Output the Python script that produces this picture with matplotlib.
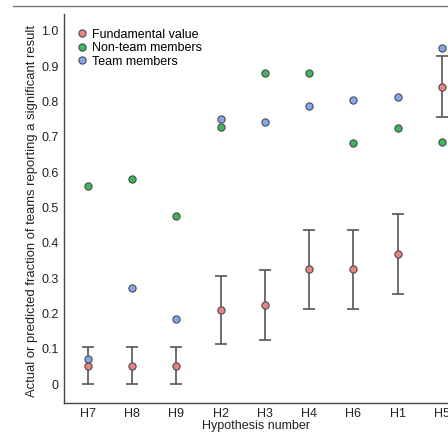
import numpy as np
import matplotlib
matplotlib.use('Agg')
import matplotlib.pyplot as plt
from matplotlib.lines import Line2D

hypotheses = ['H7', 'H8', 'H9', 'H2', 'H3', 'H4', 'H6', 'H1', 'H5']
fundamental = [0.052, 0.052, 0.052, 0.210, 0.224, 0.326, 0.326, 0.369, 0.842]
fund_low = [0.0, 0.0, 0.0, 0.114, 0.125, 0.214, 0.214, 0.256, 0.755]
fund_high = [0.105, 0.105, 0.105, 0.307, 0.322, 0.436, 0.436, 0.483, 0.928]
non_team = [0.561, 0.582, 0.475, 0.728, 0.881, 0.881, 0.684, 0.726, 0.686]
team = [0.070, 0.272, 0.185, 0.752, 0.741, 0.788, 0.805, 0.813, 0.952]
y_ticks = [0, 0.1, 0.2, 0.3, 0.4, 0.5, 0.6, 0.7, 0.8, 0.9, 1.0]
y_tick_labels = ['0', '0.1', '0.2', '0.3', '0.4', '0.5', '0.6', '0.7', '0.8', '0.9', '1.0']

red = '#e8847f'
green = '#3db65c'
blue = '#7fa8f0'
edge = '#4a4a4a'


def main():
    plt.rcParams['font.family'] = ['Liberation Sans', 'DejaVu Sans']
    fig = plt.figure(figsize=(4.48, 4.36), dpi=100)
    ax = fig.add_axes([0.143, 0.076, 0.857, 0.892])

    x = np.arange(len(hypotheses))
    fund = np.array(fundamental)
    yerr = [fund - np.array(fund_low), np.array(fund_high) - fund]

    ax.errorbar(x, fund, yerr=yerr, fmt='none', ecolor='#555555', elinewidth=1.2,
                capsize=4.5, capthick=1.2, zorder=2)
    ms = 5.2
    ax.plot(x, non_team, 'o', color=green, markeredgecolor=edge, markeredgewidth=0.8,
            markersize=ms, linestyle='None', zorder=3)
    ax.plot(x, team, 'o', color=blue, markeredgecolor=edge, markeredgewidth=0.8,
            markersize=ms, linestyle='None', zorder=4)
    ax.plot(x, fundamental, 'o', color=red, markeredgecolor=edge, markeredgewidth=0.8,
            markersize=ms, linestyle='None', zorder=5)

    ax.set_xlim(-0.54, 8.14)
    ax.set_ylim(-0.053, 1.048)
    ax.set_xticks(x)
    ax.set_xticklabels(hypotheses)
    ax.set_yticks(y_ticks)
    ax.set_yticklabels(y_tick_labels)
    ax.tick_params(axis='y', length=0, labelsize=9, pad=4, colors='#222222')
    ax.tick_params(axis='x', length=0, labelsize=9, pad=4, colors='#222222')

    for s in ['top', 'right']:
        ax.spines[s].set_visible(False)
    for s in ['left', 'bottom']:
        ax.spines[s].set_color('#444444')
        ax.spines[s].set_linewidth(1.0)

    ax.set_xlabel('Hypothesis number', fontsize=9, labelpad=0, color='#222222')
    ax.set_ylabel('Actual or predicted fraction of teams reporting a significant result',
                  fontsize=9.4, color='#222222')
    ax.yaxis.set_label_coords(-0.068, 0.494)

    legend_handles = [
        Line2D([0], [0], marker='o', color=red, markeredgecolor=edge, markeredgewidth=0.8,
               markersize=ms, linestyle='None', label='Fundamental value'),
        Line2D([0], [0], marker='o', color=green, markeredgecolor=edge, markeredgewidth=0.8,
               markersize=ms, linestyle='None', label='Non-team members'),
        Line2D([0], [0], marker='o', color=blue, markeredgecolor=edge, markeredgewidth=0.8,
               markersize=ms, linestyle='None', label='Team members'),
    ]
    ax.legend(handles=legend_handles, loc='upper left', bbox_to_anchor=(0.0, 0.985),
              frameon=False, fontsize=9, handletextpad=0.0, labelspacing=0.12,
              borderaxespad=0.3, handlelength=1.5)

    fig.add_artist(Line2D([0.03, 1.0], [0.986, 0.986], color='#777777', linewidth=1.0))

    fig.savefig('out.png', dpi=100)


if __name__ == '__main__':
    main()
